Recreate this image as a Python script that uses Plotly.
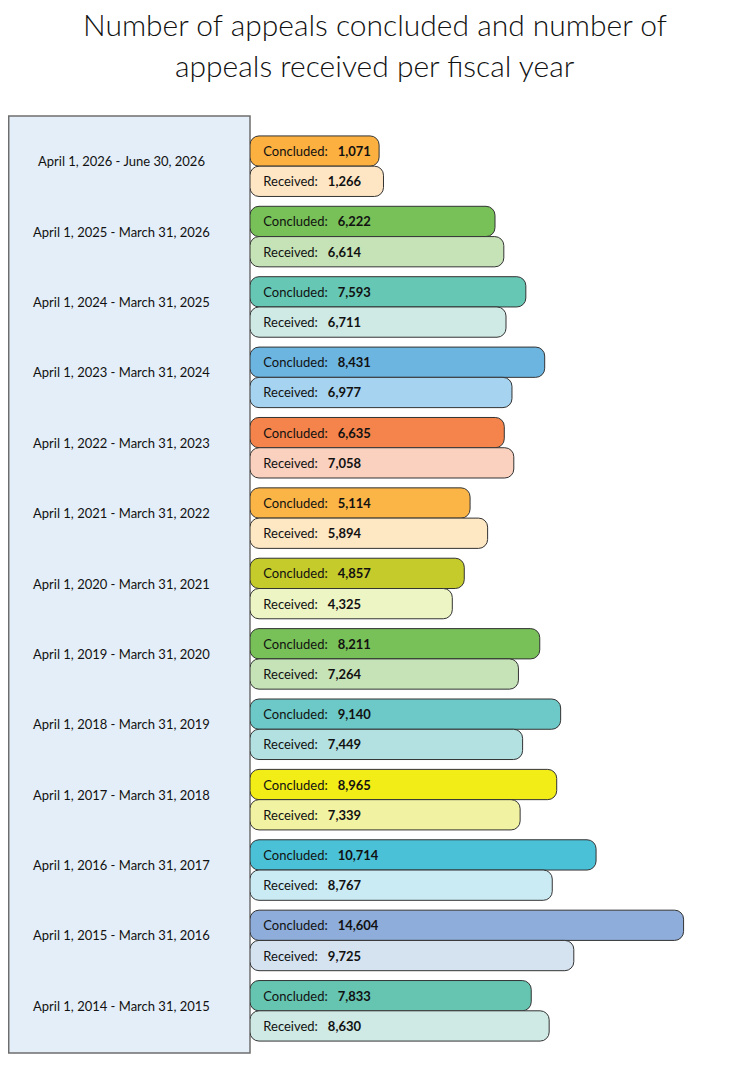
import plotly.graph_objects as go

# ---- data ----
periods = [
    "April 1, 2026 - June 30, 2026",
    "April 1, 2025 - March 31, 2026",
    "April 1, 2024 - March 31, 2025",
    "April 1, 2023 - March 31, 2024",
    "April 1, 2022 - March 31, 2023",
    "April 1, 2021 - March 31, 2022",
    "April 1, 2020 - March 31, 2021",
    "April 1, 2019 - March 31, 2020",
    "April 1, 2018 - March 31, 2019",
    "April 1, 2017 - March 31, 2018",
    "April 1, 2016 - March 31, 2017",
    "April 1, 2015 - March 31, 2016",
    "April 1, 2014 - March 31, 2015",
]
concluded = [1071, 6222, 7593, 8431, 6635, 5114, 4857, 8211, 9140, 8965, 10714, 14604, 7833]
received = [1266, 6614, 6711, 6977, 7058, 5894, 4325, 7264, 7449, 7339, 8767, 9725, 8630]

concluded_colors = ["#FBB040", "#77C158", "#66C7B5", "#6CB5E1", "#F4844B", "#FBB547",
                    "#C5CB2B", "#78C158", "#6CC9C7", "#F2EC17", "#4BC1D7", "#8EADDA", "#66C5B1"]
received_colors = ["#FEE6C4", "#C6E3B7", "#CFE9E5", "#A6D3EF", "#FAD0BE", "#FEE7C3",
                   "#EEF5C4", "#C6E3B8", "#B3E1E2", "#F2F3A2", "#CBEBF4", "#D5E3F1", "#CFEAE4"]

title_lines = ["Number of appeals concluded and number of",
               "appeals received per fiscal year"]

# ---- style constants (pixel layout; page body adds an 8px offset) ----
FONT = "Lato"
OFF = 8
W, H = 750 - OFF, 1066 - OFF
ML, MR = 0, 10
MT, MB = 116 - OFF, H - (1053 - OFF)
paper_w = W - ML - MR
paper_h = H - MT - MB
x_dom0 = (250 - OFF - ML) / paper_w
y_dom1 = (H - MB - (131 - OFF)) / paper_h
y_dom0 = (H - MB - (1046 - OFF)) / paper_h

PX_PER_UNIT = 0.0225
PAD = 105 / PX_PER_UNIT            # room at the left of each bar for its label
plot_w = paper_w * (1 - x_dom0)
x_range = [-PAD, -PAD + plot_w / PX_PER_UNIT]

NB = "\u00a0"
conc_text = [f"{NB*3}Concluded:{NB*3}<b>{v:,}</b>" for v in concluded]
rec_text = [f"{NB*3}Received:{NB*3}<b>{v:,}</b>" for v in received]

fig = go.Figure()
fig.add_trace(go.Bar(
    y=periods, x=[v + PAD for v in concluded], base=-PAD, orientation="h",
    name="Concluded", text=conc_text, textposition="inside", insidetextanchor="start",
    insidetextfont=dict(family=FONT, size=13, color="#111111"),
    marker=dict(color=concluded_colors, line=dict(color="#333333", width=1), cornerradius=9),
    hovertemplate="%{y}<br>Concluded: %{customdata:,}<extra></extra>", customdata=concluded,
))
fig.add_trace(go.Bar(
    y=periods, x=[v + PAD for v in received], base=-PAD, orientation="h",
    name="Received", text=rec_text, textposition="inside", insidetextanchor="start",
    insidetextfont=dict(family=FONT, size=13, color="#111111"),
    marker=dict(color=received_colors, line=dict(color="#333333", width=1), cornerradius=9),
    hovertemplate="%{y}<br>Received: %{customdata:,}<extra></extra>", customdata=received,
))

# left panel with period labels
fig.add_shape(type="rect", xref="paper", yref="paper", x0=0.001, x1=x_dom0, y0=0, y1=1,
              fillcolor="#E4EEF8", line=dict(color="#6E6E6E", width=1.5), layer="below")
for p in periods:
    fig.add_annotation(xref="paper", yref="y", x=(121 - OFF - ML) / paper_w, y=p, yshift=5,
                       text=p, showarrow=False, xanchor="center",
                       font=dict(family=FONT, size=13, color="#111111"))

# title (two centred lines)
for line, ypx in zip(title_lines, [24, 65]):
    fig.add_annotation(xref="paper", yref="paper",
                       x=(375 - OFF - ML) / paper_w,
                       y=(H - MB - (ypx - OFF)) / paper_h,
                       text=line, showarrow=False, xanchor="center", yanchor="middle",
                       font=dict(family=FONT, size=30, color="#111111", weight=300))

fig.update_layout(
    width=W, height=H,
    margin=dict(l=ML, r=MR, t=MT, b=MB),
    paper_bgcolor="white", plot_bgcolor="rgba(0,0,0,0)",
    barmode="group", bargap=0.14, bargroupgap=0,
    showlegend=False,
    xaxis=dict(domain=[x_dom0, 1], range=x_range, visible=False, fixedrange=True),
    yaxis=dict(domain=[y_dom0, y_dom1], categoryorder="array", categoryarray=periods,
               autorange="reversed", visible=False, fixedrange=True),
    font=dict(family=FONT),
)

fig.write_html("out.html")
